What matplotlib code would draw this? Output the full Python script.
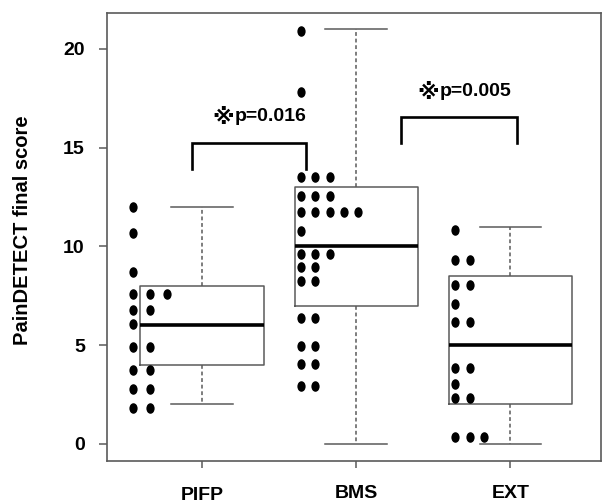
import matplotlib
matplotlib.use("Agg")
import matplotlib.pyplot as plt
from matplotlib.markers import MarkerStyle
from matplotlib.transforms import Affine2D, ScaledTranslation
from collections import Counter

# ---------------- data ----------------
groups = ["PIFP", "BMS", "EXT"]

# box statistics
whisker_lo = [2, 0, 0]
q1 = [4, 7, 2]
medians = [6, 10, 5]
q3 = [8, 13, 8.5]
whisker_hi = [12, 21, 11]

# individual scores
pifp_scores = [12.0, 10.7, 8.7, 7.6, 7.6, 7.6, 6.8, 6.8, 6.1, 4.9, 4.9,
               3.75, 3.75, 2.8, 2.8, 1.8, 1.8]
bms_scores = [20.9, 17.8, 13.5, 13.5, 13.5, 12.55, 12.55, 12.55,
              11.75, 11.75, 11.75, 11.75, 11.75, 10.8, 9.6, 9.6, 9.6,
              8.95, 8.95, 8.25, 8.25, 6.4, 6.4, 4.95, 4.95, 4.05, 4.05,
              2.95, 2.95]
ext_scores = [10.85, 9.3, 9.3, 8.05, 8.05, 7.1, 6.2, 6.2, 3.85, 3.85, 3.05,
              2.35, 2.35, 0.35, 0.35, 0.35]

# significance annotations
sig_mark = "※"
sig_values = ["p=0.016", "p=0.005"]
sig_left = [0.935, 2.29]
sig_right = [1.675, 3.043]
sig_low = [13.9, 15.25]
sig_high = [15.25, 16.55]
sig_text_x = [1.21, 2.538]   # junction between the mark and the p-value
sig_text_y = [16.57, 17.84]

# ---------------- figure ----------------
W, H = 606, 503
fig = plt.figure(figsize=(W / 100, H / 100), dpi=100)
ax = fig.add_axes([107 / W, (H - 461) / H, (601 - 107) / W, (461 - 13) / H])

FONT = ["Liberation Sans", "DejaVu Sans"]
MARKFONT = ["DejaVu Sans", "Noto Sans CJK JP"]
frame_col = "#5a5a5a"
positions = [1, 2, 3]

stats = []
for i, g in enumerate(groups):
    stats.append(dict(label=g, med=medians[i], q1=q1[i], q3=q3[i],
                      whislo=whisker_lo[i], whishi=whisker_hi[i], fliers=[]))

ax.bxp(stats, positions=positions, widths=0.8, capwidths=0.4,
       showfliers=False, patch_artist=False,
       boxprops=dict(color=frame_col, linewidth=1.1),
       medianprops=dict(color="black", linewidth=2.6),
       whiskerprops=dict(color=frame_col, linewidth=1.1, linestyle=(0, (2.5, 1.8))),
       capprops=dict(color=frame_col, linewidth=1.1))

# stacked dot columns to the left of each box
dot_marker = MarkerStyle("o", transform=Affine2D().scale(0.78, 1.0))
dot_start = [0.553, 1.643, 2.643]
dot_step = [0.11, 0.092, 0.092]
for i, scores in enumerate([pifp_scores, bms_scores, ext_scores]):
    seen = Counter()
    xs = []
    for v in scores:
        xs.append(dot_start[i] + dot_step[i] * seen[v])
        seen[v] += 1
    ax.plot(xs, scores, linestyle="none", marker=dot_marker,
            markersize=7.6, color="black", markeredgewidth=0)

# brackets and p-values
mark_shift = ScaledTranslation(0, -1.5 / 100, fig.dpi_scale_trans)
for i in range(len(sig_values)):
    ax.plot([sig_left[i], sig_left[i], sig_right[i], sig_right[i]],
            [sig_low[i], sig_high[i], sig_high[i], sig_low[i]],
            color="black", linewidth=1.9, solid_joinstyle="miter")
    ax.text(sig_text_x[i], sig_text_y[i], sig_mark, ha="right",
            va="center", fontsize=16, fontweight="bold", family=MARKFONT,
            transform=ax.transData + mark_shift)
    ax.text(sig_text_x[i], sig_text_y[i], sig_values[i], ha="left",
            va="center", fontsize=14, fontweight="bold", family=FONT)

# axes
ax.set_xlim(0.384, 3.587)
ax.set_ylim(-0.861, 21.82)
ax.set_yticks([0, 5, 10, 15, 20])
ax.set_xticks(positions)
ax.set_xticklabels(groups)
for s in ax.spines.values():
    s.set_color(frame_col)
    s.set_linewidth(1.2)
ax.tick_params(axis="y", length=6, width=1.1, color=frame_col, pad=10)
ax.tick_params(axis="x", length=5.3, width=1.1, color=frame_col, pad=12)
for lab in ax.get_xticklabels() + ax.get_yticklabels():
    lab.set_fontsize(14)
    lab.set_fontweight("bold")
    lab.set_family(FONT)
# PIFP label sits slightly lower
xl = ax.get_xticklabels()[0]
xl.set_transform(xl.get_transform() + ScaledTranslation(0, -1.5 / 100, fig.dpi_scale_trans))

ax.set_ylabel("PainDETECT final score", fontsize=14.5, fontweight="bold",
              family=FONT, va="center")
ax.yaxis.set_label_coords(-0.172, 0.515)

fig.savefig("out.png", dpi=100)
